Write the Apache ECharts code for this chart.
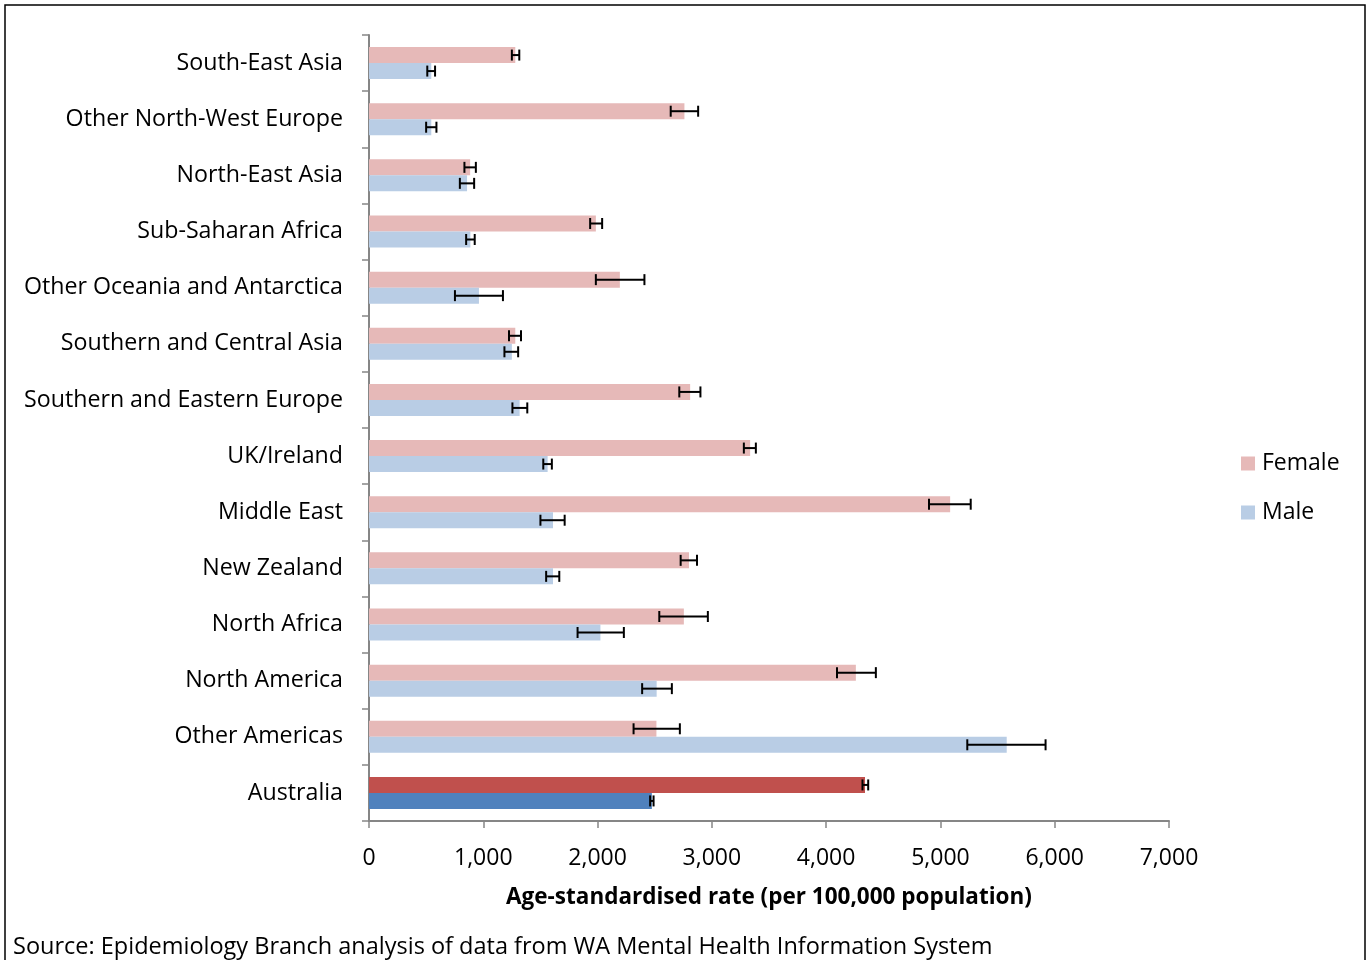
<!DOCTYPE html>
<html><head><meta charset="utf-8">
<script src="https://cdn.jsdelivr.net/npm/echarts@6/dist/echarts.min.js"></script>
<style>html,body{margin:0;padding:0;background:#fff}#c{width:1368px;height:960px}</style>
</head><body><div id="c"></div>
<script>
const categories = ["South-East Asia","Other North-West Europe","North-East Asia","Sub-Saharan Africa","Other Oceania and Antarctica","Southern and Central Asia","Southern and Eastern Europe","UK/Ireland","Middle East","New Zealand","North Africa","North America","Other Americas","Australia"];
const femaleRate = [1280,2760,885,1985,2195,1280,2810,3335,5085,2800,2755,4260,2515,4340];
const femaleLow  = [1250,2640,835,1935,1985,1225,2715,3280,4900,2727,2540,4095,2315,4318];
const femaleHigh = [1315,2880,935,2040,2410,1330,2900,3385,5265,2870,2965,4435,2720,4368];
const maleRate = [545,545,858,887,962,1250,1318,1563,1610,1610,2025,2517,5580,2475];
const maleLow  = [510,500,795,850,752,1185,1255,1525,1500,1550,1825,2390,5235,2460];
const maleHigh = [578,590,920,925,1172,1305,1385,1600,1712,1665,2230,2650,5920,2490];
const xTicks = [0,1000,2000,3000,4000,5000,6000,7000];

const FONT = 'Open Sans';
const FS = 23.2;
const BAR_W = 16;
const highlight = "Australia";
const femaleData = femaleRate.map((v,i)=> categories[i]===highlight ? {value:v,itemStyle:{color:'#C0504D'}} : v);
const maleData = maleRate.map((v,i)=> categories[i]===highlight ? {value:v,itemStyle:{color:'#4F81BD'}} : v);

function errSeries(low, high, offset){
  return {
    type:'custom', silent:true, z:5,
    data: low.map((l,i)=>[i,l,high[i]]),
    encode:{y:0,x:[1,2]},
    renderItem:function(params, api){
      const c = api.value(0);
      const p1 = api.coord([api.value(1), c]);
      const p2 = api.coord([api.value(2), c]);
      const y = p1[1] + offset;
      const h = 5.5;
      const st = {stroke:'#000', lineWidth:2};
      return {type:'group', children:[
        {type:'line', shape:{x1:p1[0],y1:y,x2:p2[0],y2:y}, style:st},
        {type:'line', shape:{x1:p1[0],y1:y-h,x2:p1[0],y2:y+h}, style:st},
        {type:'line', shape:{x1:p2[0],y1:y-h,x2:p2[0],y2:y+h}, style:st}
      ]};
    }
  };
}

const chart = echarts.init(document.getElementById('c'), null, {renderer:'canvas'});
chart.setOption({
  animation:false,
  textStyle:{fontFamily:FONT},
  grid:{left:369, right:199, top:35, bottom:139, containLabel:false},
  legend:{
    orient:'vertical', left:1236, top:447, itemGap:26, itemWidth:14, itemHeight:14, icon:'rect',
    data:['Female','Male'],
    textStyle:{fontFamily:FONT, fontSize:23, color:'#000', padding:[0,0,0,2]}
  },
  xAxis:{
    type:'value', min:0, max:7000, interval:1000,
    axisLine:{show:true, lineStyle:{color:'#868686', width:2}},
    axisTick:{show:true, length:7, lineStyle:{color:'#868686', width:1.5}},
    splitLine:{show:false},
    axisLabel:{fontFamily:FONT, fontSize:23, color:'#000', margin:26,
      formatter:v=>v.toLocaleString('en-US')},
    name:'Age-standardised rate (per 100,000 population)',
    nameLocation:'middle', nameGap:65,
    nameTextStyle:{fontFamily:FONT, fontSize:22.5, fontWeight:'bold', color:'#000'}
  },
  yAxis:{
    type:'category', data:categories, inverse:true,
    axisLine:{show:true, lineStyle:{color:'#868686', width:2}},
    axisTick:{show:true, length:7, lineStyle:{color:'#868686', width:1.5}},
    axisLabel:{fontFamily:FONT, fontSize:FS, color:'#000', margin:26}
  },
  series:[
    {name:'Female', type:'bar', data:femaleData, barWidth:BAR_W, barGap:'0%', itemStyle:{color:'#E6B9B8'}},
    {name:'Male', type:'bar', data:maleData, barWidth:BAR_W, barGap:'0%', itemStyle:{color:'#B9CDE5'}},
    errSeries(femaleLow, femaleHigh, -8),
    errSeries(maleLow, maleHigh, 8)
  ],
  graphic:[
    {type:'rect', shape:{x:5,y:5,width:1360,height:970}, style:{fill:'none', stroke:'#000', lineWidth:1.5}, silent:true},
    {type:'text', left:13, top:935, style:{text:'Source: Epidemiology Branch analysis of data from WA Mental Health Information System', font:'23.5px "'+FONT+'"', fill:'#000'}}
  ]
});
</script></body></html>
